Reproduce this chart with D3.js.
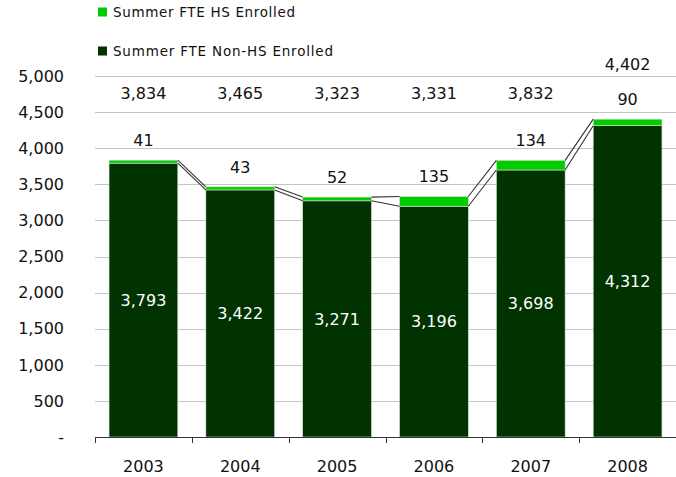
<!DOCTYPE html>
<html>
<head>
<meta charset="utf-8">
<script src="https://cdn.jsdelivr.net/npm/d3@7"></script>
<style>
  body { margin: 0; background: #fff; }
  text { font-family: "DejaVu Sans", sans-serif; }
</style>
</head>
<body>
<script>
// chart data
var years = ["2003", "2004", "2005", "2006", "2007", "2008"];
var nonHS = [3793, 3422, 3271, 3196, 3698, 4312];
var hs = [41, 43, 52, 135, 134, 90];
var totals = [3834, 3465, 3323, 3331, 3832, 4402];
var yTicks = [0, 500, 1000, 1500, 2000, 2500, 3000, 3500, 4000, 4500, 5000];
var seriesNames = ["Summer FTE HS Enrolled", "Summer FTE Non-HS Enrolled"];

var W = 676, H = 477;
var dark = "#003300", light = "#00cc00";

var svg = d3.select("body").append("svg")
    .attr("width", W)
    .attr("height", H);

// scales
var x = d3.scaleBand().domain(years).range([95, 676]).paddingInner(0.29).paddingOuter(0.145);
var y = d3.scaleLinear().domain([0, 5000]).range([437, 76]);

// gridlines
svg.append("g").selectAll("line")
    .data(yTicks.filter(function(d) { return d > 0; }))
    .enter().append("line")
    .attr("x1", 95).attr("x2", 676)
    .attr("y1", function(d) { return Math.round(y(d)) + 0.5; })
    .attr("y2", function(d) { return Math.round(y(d)) + 0.5; })
    .attr("stroke", "#c4c4c4");

// y tick labels
svg.append("g").selectAll("text")
    .data(yTicks)
    .enter().append("text")
    .attr("x", 64)
    .attr("y", function(d) { return y(d); })
    .attr("dy", "0.36em")
    .attr("text-anchor", "end")
    .attr("font-size", 16)
    .attr("fill", "#111")
    .text(function(d) { return d === 0 ? "-" : d3.format(",")(d); });

// bars
var rows = years.map(function(yr, i) {
    return {year: yr, nonHS: nonHS[i], hs: hs[i], total: totals[i]};
});

var bars = svg.append("g");
bars.selectAll("rect.dark")
    .data(rows).enter().append("rect")
    .attr("class", "dark")
    .attr("x", function(d) { return x(d.year); })
    .attr("width", x.bandwidth())
    .attr("y", function(d) { return y(d.nonHS); })
    .attr("height", function(d) { return y(0) - y(d.nonHS); })
    .attr("fill", dark)
    .attr("stroke", "#d8e0d8").attr("stroke-width", 0.6);
bars.selectAll("rect.light")
    .data(rows).enter().append("rect")
    .attr("class", "light")
    .attr("x", function(d) { return x(d.year); })
    .attr("width", x.bandwidth())
    .attr("y", function(d) { return y(d.nonHS + d.hs); })
    .attr("height", function(d) { return y(d.nonHS) - y(d.nonHS + d.hs); })
    .attr("fill", light)
    .attr("stroke", "#d8e0d8").attr("stroke-width", 0.6);

// series lines between bars
var pairs = d3.pairs(rows);
["nonHS", "top"].forEach(function(k) {
    svg.append("g").selectAll("line")
        .data(pairs).enter().append("line")
        .attr("x1", function(p) { return x(p[0].year) + x.bandwidth(); })
        .attr("x2", function(p) { return x(p[1].year); })
        .attr("y1", function(p) { return y(k === "top" ? p[0].nonHS + p[0].hs : p[0].nonHS); })
        .attr("y2", function(p) { return y(k === "top" ? p[1].nonHS + p[1].hs : p[1].nonHS); })
        .attr("stroke", "#333")
        .attr("stroke-width", 1.1);
});

// x axis
var axis = svg.append("g").attr("transform", "translate(0,437)");
axis.append("line").attr("x1", 95).attr("x2", 676).attr("y1", 0.5).attr("y2", 0.5).attr("stroke", "#333");
var edges = years.map(function(yr) { return x(yr) - x.step() * x.paddingInner() / 2; });
edges.push(676 - 0.5);
axis.selectAll("line.tick")
    .data(edges).enter().append("line")
    .attr("class", "tick")
    .attr("x1", function(d) { return Math.round(d) + 0.5; })
    .attr("x2", function(d) { return Math.round(d) + 0.5; })
    .attr("y1", 0).attr("y2", 6)
    .attr("stroke", "#333");
axis.selectAll("text")
    .data(years).enter().append("text")
    .attr("x", function(d) { return x(d) + x.bandwidth() / 2; })
    .attr("y", 29)
    .attr("dy", "0.36em")
    .attr("text-anchor", "middle")
    .attr("font-size", 16)
    .attr("fill", "#111")
    .text(function(d) { return d; });

// labels inside dark segment
svg.append("g").selectAll("text")
    .data(rows).enter().append("text")
    .attr("x", function(d) { return x(d.year) + x.bandwidth() / 2; })
    .attr("y", function(d) { return y(d.nonHS / 2); })
    .attr("dy", "0.36em")
    .attr("text-anchor", "middle")
    .attr("font-size", 16)
    .attr("fill", "#fff")
    .text(function(d) { return d3.format(",")(d.nonHS); });

// HS labels above bars
function hsY(d) { return y(d.nonHS + d.hs) - 20; }
svg.append("g").selectAll("text")
    .data(rows).enter().append("text")
    .attr("x", function(d) { return x(d.year) + x.bandwidth() / 2; })
    .attr("y", hsY)
    .attr("dy", "0.36em")
    .attr("text-anchor", "middle")
    .attr("font-size", 16)
    .attr("fill", "#111")
    .text(function(d) { return d3.format(",")(d.hs); });

// totals row
svg.append("g").selectAll("text")
    .data(rows).enter().append("text")
    .attr("x", function(d) { return x(d.year) + x.bandwidth() / 2; })
    .attr("y", function(d) { return Math.min(y(4765), hsY(d) - 35); })
    .attr("dy", "0.36em")
    .attr("text-anchor", "middle")
    .attr("font-size", 16)
    .attr("fill", "#111")
    .text(function(d) { return d3.format(",")(d.total); });

// legend
var legend = svg.append("g");
var legendColors = [light, dark];
var legendW = [182, 220];
seriesNames.forEach(function(name, i) {
    var ly = 12 + i * 39;
    legend.append("rect")
        .attr("x", 98).attr("y", ly - 4.5)
        .attr("width", 9).attr("height", 9)
        .attr("fill", legendColors[i]);
    legend.append("text")
        .attr("x", 113).attr("y", ly)
        .attr("dy", "0.36em")
        .attr("font-size", 13.5)
        .attr("fill", "#111")
        .attr("textLength", legendW[i])
        .attr("lengthAdjust", "spacing")
        .text(name);
});
</script>
</body>
</html>
